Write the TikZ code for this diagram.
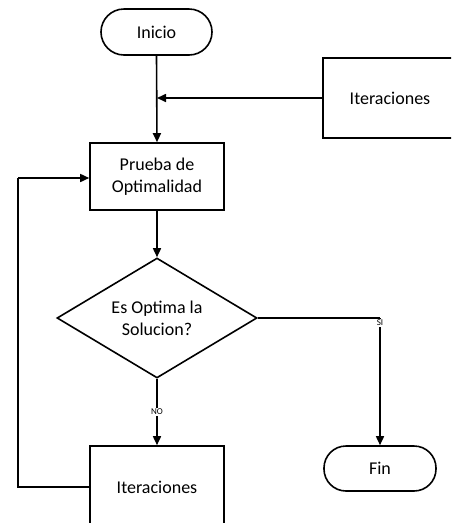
\documentclass[tikz,border=0pt]{standalone}
\usepackage{fontspec}
\setmainfont{Carlito}
\usetikzlibrary{shapes.geometric,arrows.meta,calc}
\begin{document}
\begin{tikzpicture}[x=1pt,y=-1pt,
  every node/.style={font=\fontsize{18}{22}\selectfont, align=center, text=black},
  conn/.style={line width=1.6pt, draw=black},
  arr/.style={conn, -{Triangle[length=9pt,width=8pt]}},
  procbox/.style={draw=black, line width=1.6pt, rectangle, minimum width=134pt, inner sep=0pt},
  termbox/.style={draw=black, line width=1.6pt, rectangle, minimum width=111pt, minimum height=46pt, inner sep=0pt},
  decide/.style={draw=black, line width=1.6pt, diamond, minimum width=200pt, minimum height=120pt, aspect=1.667, inner sep=0pt},
  lbl/.style={font=\fontsize{9}{10}\selectfont, fill=white, inner sep=1pt}
]
\useasboundingbox (0,0) rectangle (451,523);
\clip (0,0) rectangle (451,523);
\node[termbox, rounded corners=23pt] (ini) at (156.5,32) {Inicio};
\node[procbox, minimum height=80pt] (it1) at (390,98) {Iteraciones};
\node[procbox, minimum height=67pt] (pr) at (157,176.5) {Prueba de\\Optimalidad};
\node[decide] (dec) at (157,318) {Es Optima la\\Solucion?};
\node[termbox, rounded corners=22pt, minimum width=112pt, minimum height=45pt] (fin) at (380,468.5) {Fin};
\node[procbox, minimum height=82pt] (it2) at (157,487) {Iteraciones};
\coordinate (siC) at (dec.east -| fin.north);
\coordinate (loopB) at (18,487);
\coordinate (loopT) at (18,178);
% connectors
\draw[arr] (ini.south) -- (pr.north);
\draw[arr] (it1.west) -- (it1.west -| pr.north);
\draw[arr] (pr.south) -- (dec.north);
\draw[conn] (dec.east) -- (siC);
\draw[arr] (siC) -- node[lbl, pos=0.04] {SI} (fin.north);
\draw[arr] (dec.south) -- node[lbl, pos=0.5] {NO} (it2.north);
\draw[conn] (it2.west) -- (loopB) -- (loopT);
\draw[arr] (loopT) -- (loopT -| pr.west);
\end{tikzpicture}
\end{document}
